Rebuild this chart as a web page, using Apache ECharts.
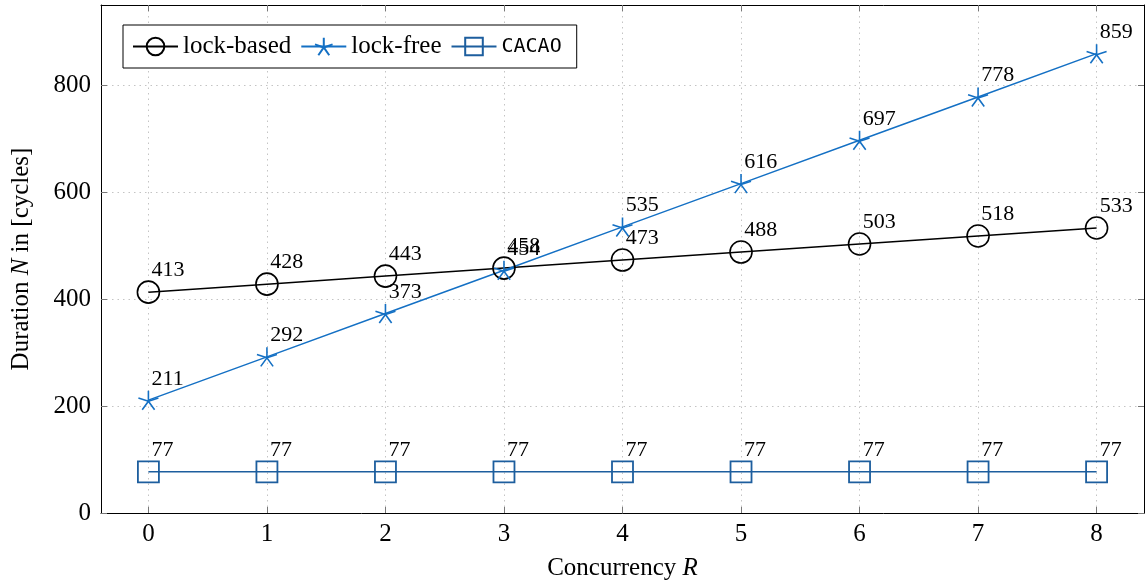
<!DOCTYPE html>
<html>
<head>
<meta charset="utf-8">
<script src="https://cdn.jsdelivr.net/npm/echarts@6/dist/echarts.min.js"></script>
<style>html,body{margin:0;padding:0;background:#fff;}#c{width:1145px;height:586px;}</style>
</head>
<body>
<div id="c"></div>
<script>
var concurrency = [0, 1, 2, 3, 4, 5, 6, 7, 8];
var lockBased = [413, 428, 443, 458, 473, 488, 503, 518, 533];
var lockFree = [211, 292, 373, 454, 535, 616, 697, 778, 859];
var cacao = [77, 77, 77, 77, 77, 77, 77, 77, 77];
var xTicks = [0, 1, 2, 3, 4, 5, 6, 7, 8];
var yTicks = [0, 200, 400, 600, 800];

var SERIF = 'Liberation Serif';
var starPath = 'path://M0 0L0 -1M0 0L0.951 -0.309M0 0L0.588 0.809M0 0L-0.588 0.809M0 0L-0.951 -0.309';

function pairs(vals) { return concurrency.map(function (x, i) { return [x, vals[i]]; }); }

function mkSeries(name, vals, color, symbol, size, bw) {
  return {
    name: name, type: 'line', data: pairs(vals),
    symbol: symbol, symbolSize: size, symbolKeepAspect: true,
    showAllSymbol: true,
    lineStyle: { color: color, width: 1.5 },
    itemStyle: { color: 'rgba(255,255,255,0)', borderColor: color, borderWidth: bw },
    label: {
      show: true, color: '#000', fontFamily: SERIF, fontSize: 22,
      position: [size / 2 + 4, size / 2 - 10], align: 'left', verticalAlign: 'bottom',
      formatter: function (p) { return p.value[1]; }
    },
    emphasis: { disabled: true },
    animation: false
  };
}

var chart = echarts.init(document.getElementById('c'), null, { renderer: 'canvas' });
chart.setOption({
  animation: false,
  backgroundColor: '#fff',
  grid: { left: 101, right: 1, top: 5, bottom: 71, containLabel: false },
  legend: {
    left: 123, top: 25,
    padding: [9, 15, 9, 9],
    itemGap: 9, itemWidth: 45, itemHeight: 22,
    borderColor: '#000', borderWidth: 1,
    backgroundColor: '#fff',
    textStyle: { fontFamily: SERIF, fontSize: 25, color: '#000',
      rich: { tt: { fontFamily: 'DejaVu Sans Mono', fontSize: 20, color: '#000' } } },
    formatter: function (n) { return n === 'CACAO' ? '{tt|CACAO}' : n; },
    data: ['lock-based', 'lock-free', 'CACAO']
  },
  xAxis: [{
    type: 'value', min: -0.4, max: 8.4, position: 'bottom',
    name: 'Concurrency {i|R}', nameLocation: 'middle', nameGap: 43,
    nameTextStyle: { fontFamily: SERIF, fontSize: 25, color: '#000', rich: { i: { fontFamily: SERIF, fontSize: 25, fontStyle: 'italic', color: '#000' } } },
    axisLine: { show: true, onZero: false, lineStyle: { color: '#000', width: 1 } },
    axisTick: { show: true, inside: true, length: 6, customValues: xTicks, lineStyle: { color: '#777' } },
    axisLabel: { customValues: xTicks, margin: 9, fontFamily: SERIF, fontSize: 25, color: '#000' },
    splitLine: { show: true, lineStyle: { type: [1.5, 4], color: '#c4c4c4', width: 1 } }
  }, {
    type: 'value', min: -0.4, max: 8.4, position: 'top',
    axisLine: { show: true, onZero: false, lineStyle: { color: '#000', width: 1 } },
    axisTick: { show: true, inside: true, length: 6, customValues: xTicks, lineStyle: { color: '#777' } },
    axisLabel: { show: false },
    splitLine: { show: false }
  }],
  yAxis: [{
    type: 'value', min: 0, max: 950, position: 'left',
    name: 'Duration {i|N} in [cycles]', nameLocation: 'middle', nameGap: 67,
    nameTextStyle: { fontFamily: SERIF, fontSize: 25, color: '#000', rich: { i: { fontFamily: SERIF, fontSize: 25, fontStyle: 'italic', color: '#000' } } },
    axisLine: { show: true, onZero: false, lineStyle: { color: '#000', width: 1 } },
    axisTick: { show: true, inside: true, length: 6, customValues: yTicks, lineStyle: { color: '#777' } },
    axisLabel: { customValues: yTicks, margin: 10, fontFamily: SERIF, fontSize: 25, color: '#000' },
    splitLine: { show: true, lineStyle: { type: [1.5, 4], color: '#c4c4c4', width: 1 } }
  }, {
    type: 'value', min: 0, max: 950, position: 'right',
    axisLine: { show: true, onZero: false, lineStyle: { color: '#000', width: 1 } },
    axisTick: { show: true, inside: true, length: 6, customValues: yTicks, lineStyle: { color: '#777' } },
    axisLabel: { show: false },
    splitLine: { show: false }
  }],
  series: [
    mkSeries('lock-based', lockBased, '#000000', 'circle', 22, 1.6),
    mkSeries('lock-free', lockFree, '#1470c4', starPath, 20, 1.6),
    mkSeries('CACAO', cacao, '#1d5e9e', 'rect', 21, 1.8)
  ]
});
</script>
</body>
</html>
